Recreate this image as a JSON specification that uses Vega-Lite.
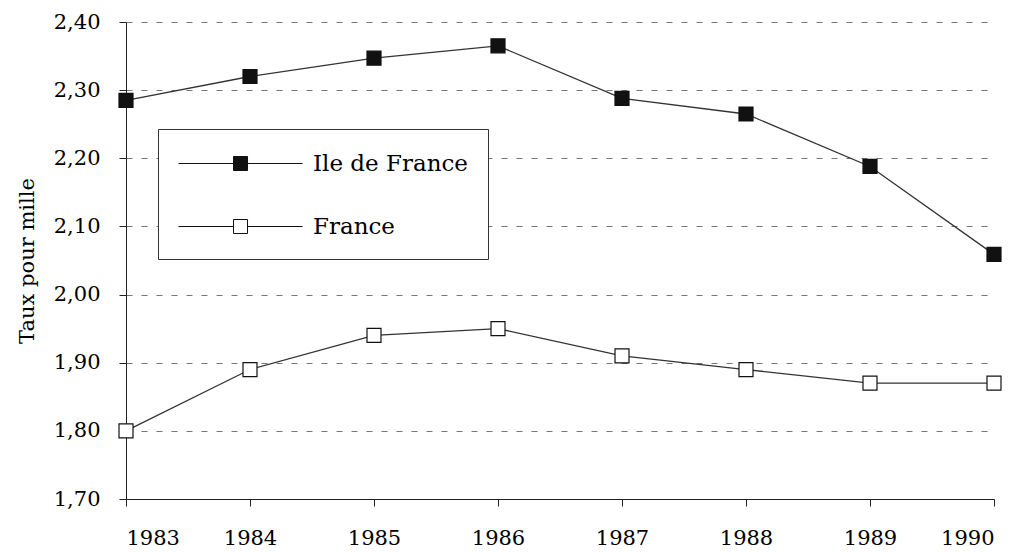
{
  "$schema": "https://vega.github.io/schema/vega-lite/v6.json",
  "width": 868,
  "height": 477,
  "autosize": "none",
  "padding": {"left": 126, "top": 22, "right": 32, "bottom": 53},
  "background": "white",
  "config": {
    "locale": {"number": {"decimal": ",", "thousands": " ", "grouping": [3], "currency": ["", " €"]}},
    "font": "DejaVu Serif",
    "view": {"stroke": null},
    "axis": {
      "domainColor": "#222",
      "tickColor": "#222",
      "labelColor": "#000",
      "titleColor": "#000",
      "labelFont": "DejaVu Serif",
      "titleFont": "DejaVu Serif",
      "labelFontSize": 21,
      "titleFontWeight": "normal",
      "tickSize": 7
    }
  },
  "data": {
    "values": [
      {"annee": 1983, "serie": "Ile de France", "taux": 2.285},
      {"annee": 1984, "serie": "Ile de France", "taux": 2.32},
      {"annee": 1985, "serie": "Ile de France", "taux": 2.347},
      {"annee": 1986, "serie": "Ile de France", "taux": 2.365},
      {"annee": 1987, "serie": "Ile de France", "taux": 2.288},
      {"annee": 1988, "serie": "Ile de France", "taux": 2.265},
      {"annee": 1989, "serie": "Ile de France", "taux": 2.188},
      {"annee": 1990, "serie": "Ile de France", "taux": 2.059},
      {"annee": 1983, "serie": "France", "taux": 1.80},
      {"annee": 1984, "serie": "France", "taux": 1.89},
      {"annee": 1985, "serie": "France", "taux": 1.94},
      {"annee": 1986, "serie": "France", "taux": 1.95},
      {"annee": 1987, "serie": "France", "taux": 1.91},
      {"annee": 1988, "serie": "France", "taux": 1.89},
      {"annee": 1989, "serie": "France", "taux": 1.87},
      {"annee": 1990, "serie": "France", "taux": 1.87}
    ]
  },
  "encoding": {
    "x": {
      "field": "annee",
      "type": "quantitative",
      "scale": {"domain": [1983, 1990], "nice": false, "zero": false},
      "axis": {"title": null, "values": [1983, 1984, 1985, 1986, 1987, 1988, 1989, 1990], "format": "d", "grid": false, "labelPadding": 21}
    },
    "y": {
      "field": "taux",
      "type": "quantitative",
      "scale": {"domain": [1.70, 2.40], "nice": false, "zero": false},
      "axis": {
        "title": "Taux pour mille",
        "titleFontSize": 21,
        "titlePadding": 16,
        "values": [1.7, 1.8, 1.9, 2.0, 2.1, 2.2, 2.3, 2.4],
        "format": ".2f",
        "grid": true,
        "gridDash": [6, 9],
        "gridColor": "#777",
        "gridWidth": 1.2,
        "labelPadding": 19
      }
    }
  },
  "layer": [
    {
      "mark": {"type": "line", "color": "#333", "strokeWidth": 1.3},
      "encoding": {"detail": {"field": "serie"}}
    },
    {
      "mark": {"type": "point", "shape": "square", "size": 196, "stroke": "#111", "strokeWidth": 1.2, "opacity": 1, "filled": true},
      "encoding": {
        "fill": {
          "field": "serie",
          "type": "nominal",
          "scale": {"domain": ["Ile de France", "France"], "range": ["#111", "white"]},
          "legend": {
            "title": null,
            "orient": "none",
            "legendX": 32,
            "legendY": 107,
            "padding": 20,
            "strokeColor": "#333",
            "fillColor": "white",
            "symbolType": "M-1,0H2.93M3.93,0H7.86M2.93,-0.5H3.93V0.5H2.93Z",
            "symbolSize": 784,
            "symbolStrokeColor": "#111",
            "symbolStrokeWidth": 1,
            "labelFont": "DejaVu Serif",
            "labelFontSize": 23,
            "labelColor": "#000",
            "labelOffset": 106,
            "rowPadding": 36
          }
        }
      }
    }
  ]
}
